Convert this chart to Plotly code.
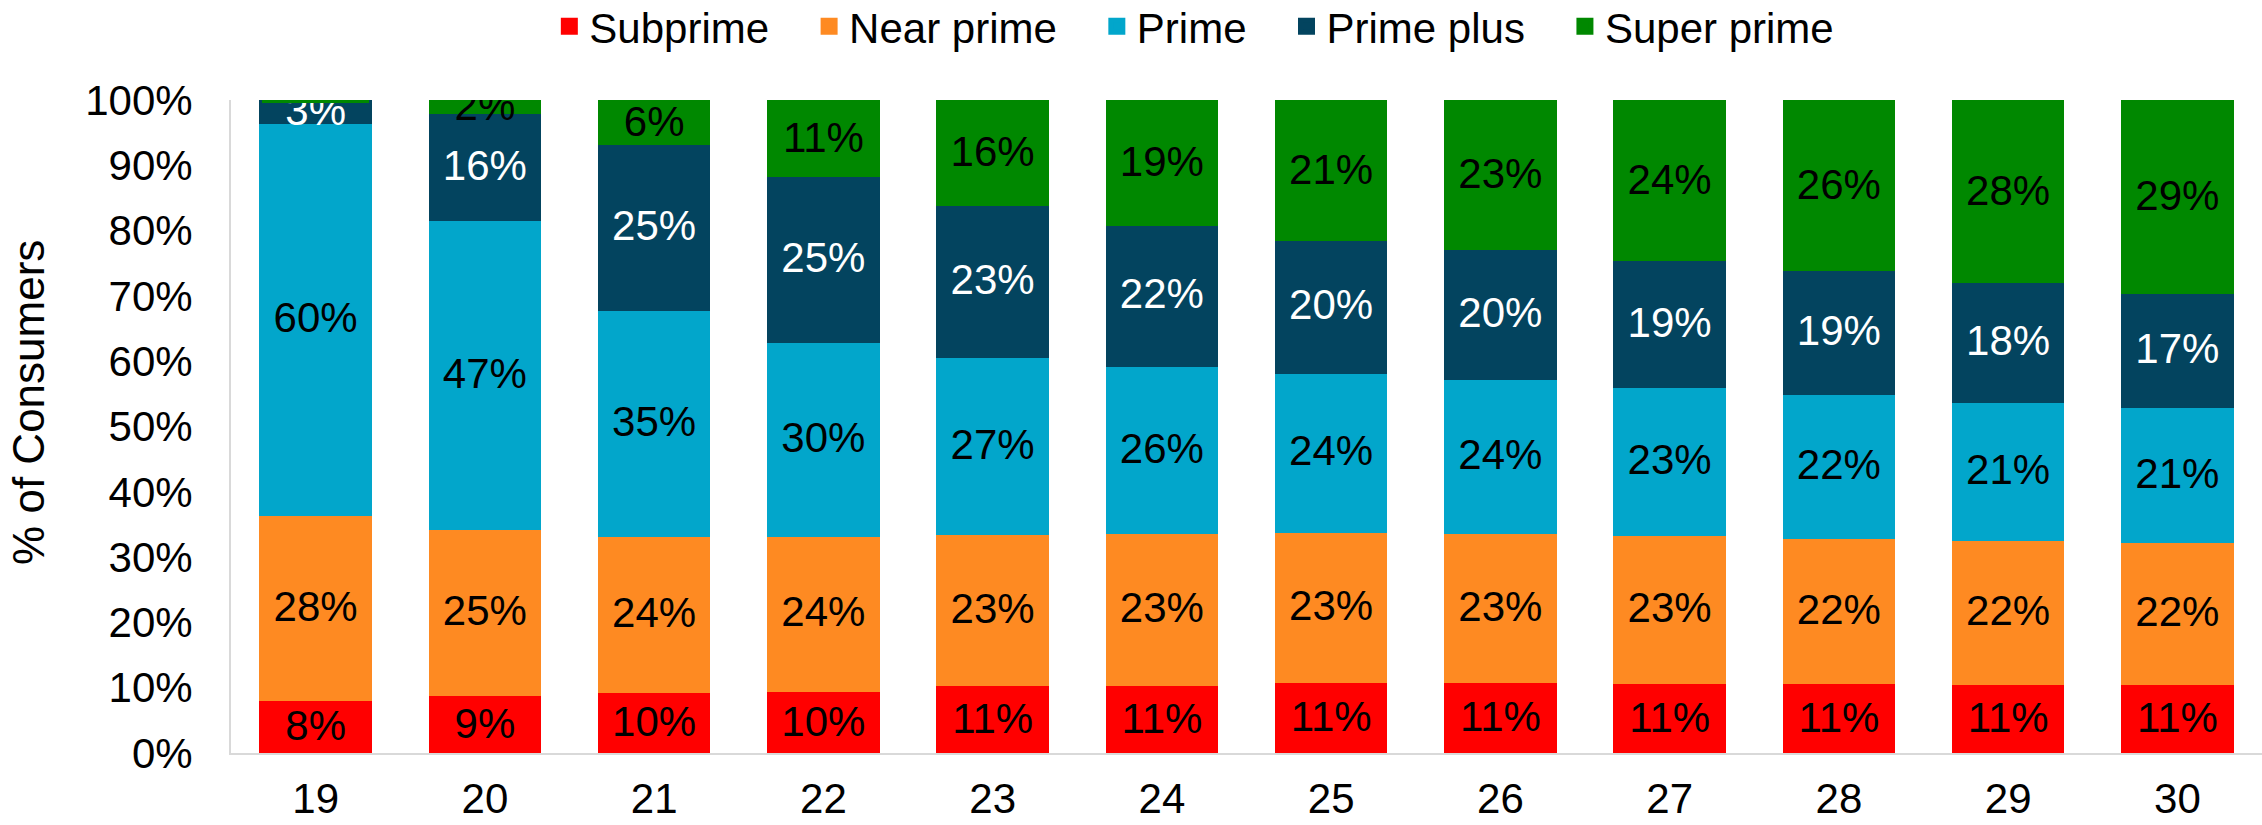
import plotly.graph_objects as go

# Share of consumers by credit tier (%), one stacked bar per year
years = ["19", "20", "21", "22", "23", "24", "25", "26", "27", "28", "29", "30"]
subprime = [8.3, 9.1, 9.6, 9.8, 10.6, 10.7, 11.1, 11.1, 10.9, 10.9, 10.8, 10.8]
near_prime = [28.4, 25.4, 23.9, 23.7, 23.2, 23.2, 23.0, 22.8, 22.7, 22.3, 22.0, 21.7]
prime = [60.0, 47.3, 34.6, 29.7, 27.0, 25.6, 24.4, 23.6, 22.7, 22.0, 21.2, 20.7]
prime_plus = [3.3, 16.4, 25.4, 25.4, 23.4, 21.6, 20.3, 19.9, 19.4, 19.0, 18.4, 17.4]
super_prime = [0.0, 1.8, 6.4, 11.4, 15.8, 18.9, 21.2, 22.6, 24.3, 25.8, 27.6, 29.4]

# y-axis ticks
y_ticks = [0, 10, 20, 30, 40, 50, 60, 70, 80, 90, 100]
y_ticktext = [f"{t}%" for t in y_ticks]

series = [
    ("Subprime", subprime, "#FF0000", "black"),
    ("Near prime", near_prime, "#FE8A22", "black"),
    ("Prime", prime, "#02A6CB", "black"),
    ("Prime plus", prime_plus, "#03445F", "white"),
    ("Super prime", super_prime, "#008800", "black"),
]

FONT = "Liberation Sans, Arial, sans-serif"
PAD = "\u00a0" * 3  # extra spacing between legend entries

fig = go.Figure()
for i, (name, vals, color, txtcolor) in enumerate(series):
    labels = [f"{round(v):.0f}%" if v >= 1 else "" for v in vals]
    fig.add_trace(go.Bar(
        x=years,
        y=vals,
        name=name + (PAD if i < len(series) - 1 else ""),
        # same-colour outline also enlarges the legend swatch
        marker=dict(color=color, line=dict(width=5, color=color)),
        text=labels,
        textposition="inside",
        insidetextanchor="middle",
        constraintext="none",
        textfont=dict(family=FONT, size=42, color=txtcolor),
        hovertemplate=name + " %{x}: %{y:.1f}%<extra></extra>",
    ))

fig.update_layout(
    template="none",
    barmode="stack",
    bargap=0.364,
    width=2262,
    height=825,
    margin=dict(l=231, r=0, t=100, b=72),
    paper_bgcolor="white",
    plot_bgcolor="white",
    font=dict(family=FONT, size=42, color="black"),
    legend=dict(
        orientation="h",
        traceorder="normal",
        xref="container",
        yref="container",
        x=0.528,
        xanchor="center",
        y=0.968,
        yanchor="middle",
        font=dict(family=FONT, size=42, color="black"),
        bgcolor="rgba(0,0,0,0)",
    ),
    xaxis=dict(
        type="category",
        showgrid=False,
        showline=True,
        linecolor="#D9D9D9",
        linewidth=2,
        ticks="outside",
        ticklen=8,
        tickcolor="rgba(0,0,0,0)",
        tickfont=dict(family=FONT, size=42, color="black"),
        automargin=False,
    ),
    yaxis=dict(
        range=[0, 100],
        tickmode="array",
        tickvals=y_ticks,
        ticktext=y_ticktext,
        showgrid=False,
        zeroline=False,
        showline=True,
        linecolor="#D9D9D9",
        linewidth=2,
        ticks="outside",
        ticklen=28,
        tickcolor="rgba(0,0,0,0)",
        tickfont=dict(family=FONT, size=42, color="black"),
        automargin=False,
    ),
    annotations=[dict(
        text="% of Consumers",
        textangle=-90,
        xref="paper",
        yref="paper",
        x=-0.1,
        y=0.5375,
        xanchor="center",
        yanchor="middle",
        showarrow=False,
        font=dict(family=FONT, size=44, color="black"),
    )],
)

fig.write_html("out.html")
